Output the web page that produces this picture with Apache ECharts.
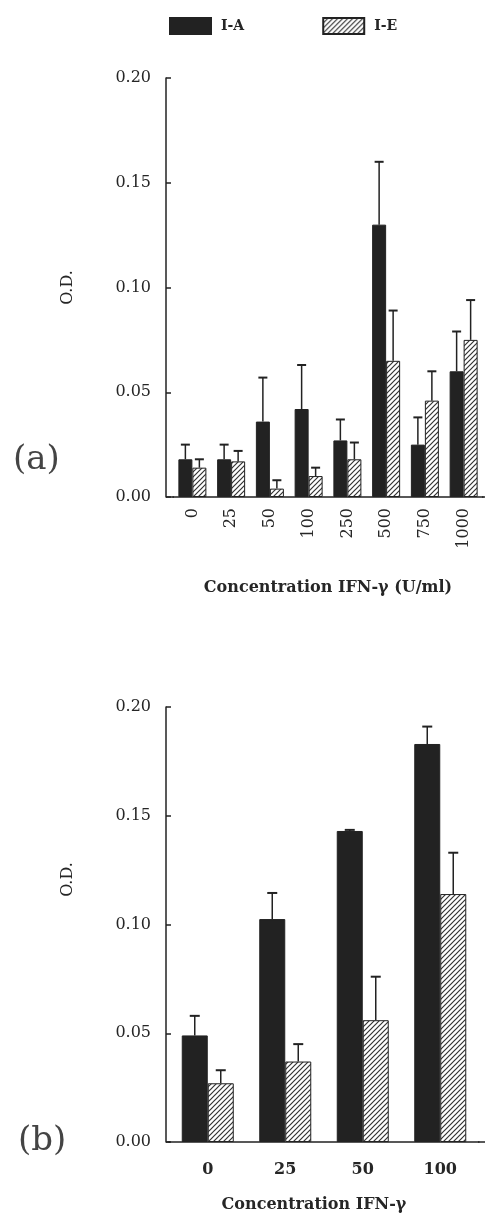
<!DOCTYPE html>
<html>
<head>
<meta charset="utf-8">
<script src="https://cdn.jsdelivr.net/npm/echarts@6/dist/echarts.min.js"></script>
<style>
  html, body { margin: 0; padding: 0; background: #fff; }
  #main { width: 485px; height: 1214px; }
</style>
</head>
<body>
<div id="main"></div>
<script>
// data
var catsA = ['0', '25', '50', '100', '250', '500', '750', '1000'];
var iaA = [0.018, 0.018, 0.036, 0.042, 0.027, 0.130, 0.025, 0.060];
var iaASd = [0.007, 0.007, 0.021, 0.021, 0.010, 0.030, 0.013, 0.019];
var ieA = [0.014, 0.017, 0.004, 0.010, 0.018, 0.065, 0.046, 0.075];
var ieASd = [0.004, 0.005, 0.004, 0.004, 0.008, 0.024, 0.014, 0.019];

var catsB = ['0', '25', '50', '100'];
var iaB = [0.049, 0.1025, 0.143, 0.183];
var iaBSd = [0.009, 0.012, 0.0005, 0.008];
var ieB = [0.027, 0.037, 0.056, 0.114];
var ieBSd = [0.006, 0.008, 0.020, 0.019];

var serif = 'DejaVu Serif';
var ink = '#222';
var txt = '#262626';

// hatch fill ////
var hc = document.createElement('canvas');
hc.width = 5; hc.height = 5;
var hx = hc.getContext('2d');
hx.fillStyle = '#fff';
hx.fillRect(0, 0, 5, 5);
hx.strokeStyle = '#333';
hx.lineWidth = 1.2;
hx.beginPath();
hx.moveTo(0, 5); hx.lineTo(5, 0);
hx.moveTo(-1, 1); hx.lineTo(1, -1);
hx.moveTo(4, 6); hx.lineTo(6, 4);
hx.stroke();
var hatch = { image: hc, repeat: 'repeat' };

function errData(mean, sd) {
    return mean.map(function (v, i) { return [i, v, v + sd[i]]; });
}

// upward error bar with a cap
function errRender(offset, cap) {
    return function (params, api) {
        var i = api.value(0);
        var lo = api.coord([i, api.value(1)]);
        var hi = api.coord([i, api.value(2)]);
        var cx = lo[0] + offset;
        return {
            type: 'group',
            children: [
                { type: 'line', shape: { x1: cx, y1: lo[1], x2: cx, y2: hi[1] }, style: { stroke: ink, lineWidth: 1.5 } },
                { type: 'line', shape: { x1: cx - cap / 2, y1: hi[1], x2: cx + cap / 2, y2: hi[1] }, style: { stroke: ink, lineWidth: 2 } }
            ]
        };
    };
}

function yAxisFor(idx, off, namePad) {
    return {
        type: 'value', gridIndex: idx, min: 0, max: 0.2, interval: 0.05, offset: off,
        name: 'O.D.', nameLocation: 'middle', nameGap: 90,
        nameTextStyle: { fontFamily: serif, fontSize: 16, color: txt, padding: namePad },
        axisLine: { show: true, lineStyle: { color: ink, width: 1.5 } },
        axisTick: { show: true, inside: true, length: 5, lineStyle: { color: ink, width: 1.5 } },
        splitLine: { show: false },
        axisLabel: {
            margin: 15, fontFamily: serif, fontSize: 16, color: txt,
            formatter: function (v) { return v.toFixed(2); }
        }
    };
}

var myChart = echarts.init(document.getElementById('main'));
myChart.setOption({
    animation: false,
    legend: {
        left: 164, top: 12, itemWidth: 41, itemHeight: 16, itemGap: 78, icon: 'rect',
        data: ['I-A', 'I-E'],
        textStyle: { fontFamily: serif, fontWeight: 'bold', fontSize: 14, color: txt, padding: [0, 0, 0, 5] }
    },
    grid: [
        { left: 173, right: 2, top: 78, height: 419 },
        { left: 169, right: 6, top: 707, height: 435 }
    ],
    xAxis: [
        {
            type: 'category', gridIndex: 0, data: catsA,
            name: 'Concentration IFN-γ (U/ml)', nameLocation: 'middle', nameGap: 83,
            nameTextStyle: { fontFamily: serif, fontWeight: 'bold', fontSize: 16, color: txt },
            axisLine: { lineStyle: { color: ink, width: 1.5 } },
            axisTick: { show: false },
            axisLabel: { rotate: 90, margin: 11, fontFamily: serif, fontSize: 16, color: txt }
        },
        {
            type: 'category', gridIndex: 1, data: catsB,
            name: 'Concentration IFN-γ', nameLocation: 'middle', nameGap: 55,
            nameTextStyle: { fontFamily: serif, fontWeight: 'bold', fontSize: 16, color: txt, padding: [0, 20, 0, 0] },
            axisLine: { lineStyle: { color: ink, width: 1.5 } },
            axisTick: { show: false },
            axisLabel: { margin: 20, fontFamily: serif, fontWeight: 'bold', fontSize: 16, color: txt }
        }
    ],
    yAxis: [yAxisFor(0, 7, 0), yAxisFor(1, 3, [0, 0, 0, 90])],
    series: [
        { name: 'I-A', type: 'bar', xAxisIndex: 0, yAxisIndex: 0, data: iaA, barWidth: 14, barGap: 0,
          itemStyle: { color: ink, borderColor: ink, borderWidth: 1 } },
        { name: 'I-E', type: 'bar', xAxisIndex: 0, yAxisIndex: 0, data: ieA, barWidth: 14, barGap: 0,
          itemStyle: { color: hatch, borderColor: ink, borderWidth: 1 } },
        { name: 'I-A', type: 'bar', xAxisIndex: 1, yAxisIndex: 1, data: iaB, barWidth: 26, barGap: 0,
          itemStyle: { color: ink, borderColor: ink, borderWidth: 1 } },
        { name: 'I-E', type: 'bar', xAxisIndex: 1, yAxisIndex: 1, data: ieB, barWidth: 26, barGap: 0,
          itemStyle: { color: hatch, borderColor: ink, borderWidth: 1 } },
        { type: 'custom', xAxisIndex: 0, yAxisIndex: 0, data: errData(iaA, iaASd), renderItem: errRender(-7, 9), encode: { x: 0, y: [1, 2] }, z: 5 },
        { type: 'custom', xAxisIndex: 0, yAxisIndex: 0, data: errData(ieA, ieASd), renderItem: errRender(7, 9), encode: { x: 0, y: [1, 2] }, z: 5 },
        { type: 'custom', xAxisIndex: 1, yAxisIndex: 1, data: errData(iaB, iaBSd), renderItem: errRender(-13, 10), encode: { x: 0, y: [1, 2] }, z: 5 },
        { type: 'custom', xAxisIndex: 1, yAxisIndex: 1, data: errData(ieB, ieBSd), renderItem: errRender(13, 10), encode: { x: 0, y: [1, 2] }, z: 5 }
    ],
    graphic: [
        // baseline bits outside the category band
        { type: 'line', shape: { x1: 166, y1: 497, x2: 174, y2: 497 }, style: { stroke: ink, lineWidth: 1.5 } },
        { type: 'line', shape: { x1: 482, y1: 497, x2: 485, y2: 497 }, style: { stroke: ink, lineWidth: 1.5 } },
        { type: 'line', shape: { x1: 166, y1: 1142, x2: 170, y2: 1142 }, style: { stroke: ink, lineWidth: 1.5 } },
        { type: 'line', shape: { x1: 478, y1: 1142, x2: 485, y2: 1142 }, style: { stroke: ink, lineWidth: 1.5 } },
        { type: 'text', left: 13, top: 443, style: { text: '(a)', font: '34px "DejaVu Serif"', fill: '#444' } },
        { type: 'text', left: 18, top: 1124, style: { text: '(b)', font: '34px "DejaVu Serif"', fill: '#444' } }
    ]
});
</script>
</body>
</html>
